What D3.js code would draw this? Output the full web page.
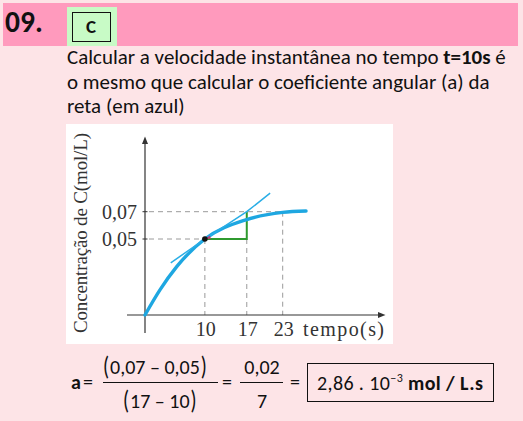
<!DOCTYPE html>
<html><head><meta charset="utf-8">
<script src="https://cdn.jsdelivr.net/npm/d3@7"></script>
<style>
html,body{margin:0;padding:0;background:#fde4e7;}
svg{display:block;}
</style></head>
<body>
<svg id="c" width="523" height="421"></svg>
<script>
// ---- data ----
const curveT = [0, 2.5, 5.3, 10, 16.7, 23, 26.9];
const curveC = [0, 0.0165, 0.0318, 0.05, 0.0639, 0.0695, 0.0705];
const tangentT = [4.3, 10, 17, 20.9];
const tangentC = [0.0343, 0.05, 0.07, 0.0836];
const pointT = 10, pointC = 0.05;
const deltaT = [10, 17, 17];
const deltaC = [0.05, 0.05, 0.07];
const xTickValues = [10, 17, 23];
const xTickLabels = ["10", "17", "23"];
const yTickValues = [0.05, 0.07];
const yTickLabels = ["0,05", "0,07"];
const introLines = [
  [["Calcular a velocidade instantânea no tempo ", false], ["t=10s", true], [" é", false]],
  [["o mesmo que calcular o coeficiente angular (a) da", false]],
  [["reta (em azul)", false]]
];

const svg = d3.select("#c");
const sans = "Carlito, Calibri, Lato, 'Open Sans', sans-serif";
const serif = "'Liberation Serif', 'Times New Roman', serif";

svg.append("rect").attr("x",0).attr("y",0).attr("width",523).attr("height",421).attr("fill","#fde4e7");
svg.append("rect").attr("x",3).attr("y",3).attr("width",515).attr("height",43).attr("fill","#ff9abd");
svg.append("text").attr("x",5).attr("y",31.5).attr("font-family",sans).attr("font-weight","bold")
  .attr("font-size",29.5).attr("fill","#111").text("09.");
svg.append("rect").attr("x",67).attr("y",7).attr("width",50).attr("height",39).attr("fill","#c8fbc6");
svg.append("rect").attr("x",72.5).attr("y",12.5).attr("width",38).attr("height",29).attr("fill","none").attr("stroke","#111").attr("stroke-width",1);
svg.append("text").attr("x",91).attr("y",33).attr("text-anchor","middle").attr("font-family",sans)
  .attr("font-weight","bold").attr("font-size",19).attr("fill","#111").text("C");

// intro text
const lineY = [64, 89, 113];
const intro = svg.append("g").attr("font-family",sans).attr("fill","#111");
const introTexts = introLines.map((segs, i) => {
  const t = intro.append("text").attr("x",67).attr("y",lineY[i]).attr("font-size",20);
  segs.forEach(s => t.append("tspan").attr("font-weight", s[1] ? "bold" : "normal").text(s[0]));
  return t;
});
{
  const w = introTexts[0].node().getComputedTextLength();
  const fs = 20 * 439 / w;
  introTexts.forEach(t => t.attr("font-size", fs));
}

// chart panel
svg.append("rect").attr("x",66).attr("y",124).attr("width",327).attr("height",220).attr("fill","#ffffff");

const x = d3.scaleLinear().domain([0, 23]).range([145, 282.7]);
const y = d3.scaleLinear().domain([0, 0.05, 0.07]).range([315, 239, 211.7]);
const x0 = x(0), y0 = y(0);

const g = svg.append("g");
function dline(x1,y1,x2,y2){
  g.append("line").attr("x1",x1).attr("y1",y1).attr("x2",x2).attr("y2",y2)
   .attr("stroke","#9a9a9a").attr("stroke-width",1).attr("stroke-dasharray","5,4");
}
dline(x0+4, y(yTickValues[1]), x(xTickValues[2]), y(yTickValues[1]));
dline(x0+4, y(yTickValues[0]), x(xTickValues[0]), y(yTickValues[0]));
dline(x(xTickValues[0]), y(yTickValues[0]), x(xTickValues[0]), y0);
dline(x(xTickValues[1]), y(yTickValues[0]), x(xTickValues[1]), y0);
dline(x(xTickValues[2]), y(yTickValues[1]), x(xTickValues[2]), y0);

const axisCol = "#333";
g.append("line").attr("x1",x0).attr("y1",333).attr("x2",x0).attr("y2",143).attr("stroke",axisCol).attr("stroke-width",1.2);
g.append("line").attr("x1",127).attr("y1",y0).attr("x2",378).attr("y2",y0).attr("stroke",axisCol).attr("stroke-width",1.2);
g.append("path").attr("d",`M${x0},136.5 L${x0-3},144 L${x0+3},144 Z`).attr("fill",axisCol);
g.append("path").attr("d",`M385.5,${y0} L378,${y0-3} L378,${y0+3} Z`).attr("fill",axisCol);
yTickValues.forEach(v => g.append("line").attr("x1",x0-2.5).attr("x2",x0+2.5).attr("y1",y(v)).attr("y2",y(v)).attr("stroke",axisCol).attr("stroke-width",1));

yTickValues.forEach((v,i) => g.append("text").attr("x",x0-8).attr("y",y(v)+7).attr("text-anchor","end")
  .attr("font-family",serif).attr("font-size",20).attr("fill","#333").text(yTickLabels[i]));
xTickValues.forEach((v,i) => g.append("text").attr("x",x(v)+1).attr("y",335.5).attr("text-anchor","middle")
  .attr("font-family",serif).attr("font-size",20).attr("fill","#333").text(xTickLabels[i]));
g.append("text").attr("x",303).attr("y",335.5).attr("font-family",serif).attr("font-size",20).attr("fill","#333")
  .attr("textLength",81).text("tempo(s)");
g.append("text").attr("transform","translate(87,233) rotate(-90)").attr("text-anchor","middle")
  .attr("font-family",serif).attr("font-size",19).attr("fill","#333").attr("textLength",200).text("Concentração de C(mol/L)");

const lineGen = d3.line().x(d=>x(d[0])).y(d=>y(d[1]));
g.append("path").attr("d", lineGen(deltaT.map((t,i)=>[t,deltaC[i]]))).attr("fill","none")
  .attr("stroke","#2f9a2f").attr("stroke-width",2);

const curve = d3.line().x(d=>x(d[0])).y(d=>y(d[1])).curve(d3.curveMonotoneX);
g.append("path").attr("d", curve(curveT.map((t,i)=>[t,curveC[i]]))).attr("fill","none")
  .attr("stroke","#1ea7e1").attr("stroke-width",3.4).attr("stroke-linecap","round");
g.append("path").attr("d", lineGen(tangentT.map((t,i)=>[t,tangentC[i]]))).attr("fill","none")
  .attr("stroke","#2aaee6").attr("stroke-width",1.5);

const px = x(pointT), py = y(pointC);
g.append("path").attr("d", `M${px},${py} L${px+6},${py} A6,6 0 0,0 ${px+6*Math.cos(0.61)},${py-6*Math.sin(0.61)} Z`)
  .attr("fill","#c4336b").attr("opacity",0.85);
g.append("circle").attr("cx",px).attr("cy",py).attr("r",2.8).attr("fill","#111");

// formula
const f = svg.append("g").attr("font-family",sans).attr("fill","#111");
function txt(xp, yp, s, size, opts={}) {
  const t = f.append("text").attr("x",xp).attr("y",yp).attr("font-size",size).text(s);
  if (opts.weight) t.attr("font-weight",opts.weight);
  if (opts.anchor) t.attr("text-anchor",opts.anchor);
  return t;
}
function wrapped(xl, yb, inner) {
  // paren ( inner ) laid out by measuring
  const p1 = f.append("text").attr("x",xl).attr("y",yb+1).attr("font-size",20)
    .attr("font-weight","300").attr("transform",`translate(0,${-(yb+1)*0.3}) scale(1,1.3)`).text("(");
  const w1 = p1.node().getComputedTextLength();
  const t = txt(xl + w1 + 1, yb, inner, 20);
  const wt = t.node().getComputedTextLength();
  f.append("text").attr("x",xl + w1 + 2 + wt).attr("y",yb+1).attr("font-size",20)
    .attr("font-weight","300").attr("transform",`translate(0,${-(yb+1)*0.3}) scale(1,1.3)`).text(")");
}
txt(71, 389, "a", 20, {weight:"bold"});
txt(88, 389, "=", 20, {anchor:"middle"});
wrapped(103, 374, "0,07 – 0,05");
f.append("line").attr("x1",103).attr("x2",218).attr("y1",382.5).attr("y2",382.5).attr("stroke","#111").attr("stroke-width",1);
wrapped(123, 408, "17 – 10");
txt(227, 389, "=", 20, {anchor:"middle"});
txt(262, 374, "0,02", 20, {anchor:"middle"});
f.append("line").attr("x1",240).attr("x2",283).attr("y1",382.5).attr("y2",382.5).attr("stroke","#111").attr("stroke-width",1);
txt(262, 408, "7", 20, {anchor:"middle"});
txt(295, 389, "=", 20, {anchor:"middle"});
f.append("rect").attr("x",307.5).attr("y",363.5).attr("width",186).attr("height",38).attr("fill","none").attr("stroke","#111").attr("stroke-width",1);
const r = f.append("text").attr("x",317).attr("y",390).attr("font-size",20);
r.append("tspan").text("2,86 . 10");
r.append("tspan").attr("font-size",12).attr("dy",-8).text("−3");
r.append("tspan").attr("dy",8).attr("font-weight","bold").text(" mol / L.s");
{
  const w = r.node().getComputedTextLength();
  if (w < 166) r.attr("textLength",166);
}
</script>
</body></html>
